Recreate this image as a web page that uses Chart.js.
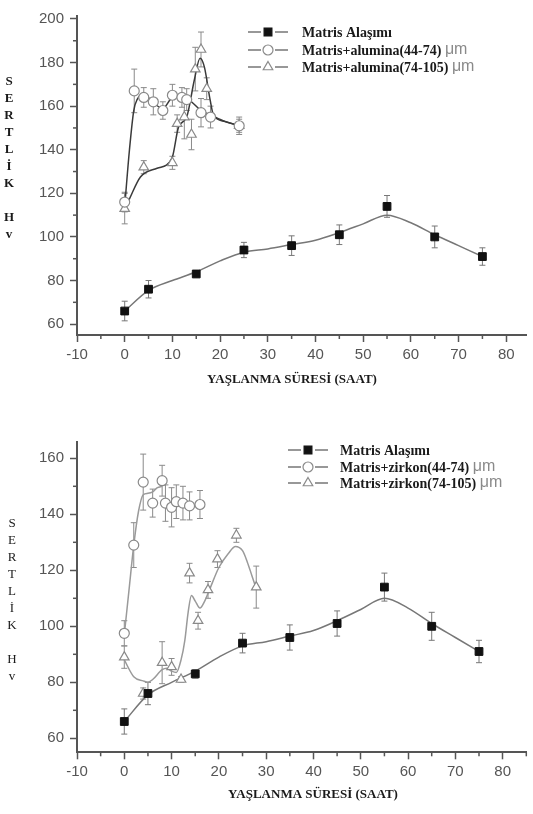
<!DOCTYPE html>
<html lang="tr">
<head>
<meta charset="UTF-8">
<title>Sertlik - Yaşlanma Süresi</title>
<script src="https://cdn.jsdelivr.net/npm/chart.js@4.4.0/dist/chart.umd.min.js"></script>
<style>
    body { margin: 0; background: #fff; }
    .kutu { position: absolute; left: 0; width: 533px; }
    #ust { top: 0; height: 400px; }
    #alt { top: 400px; height: 414px; }
</style>
</head>
<body>
<div class="kutu" id="ust"><canvas id="grafik1"></canvas></div>
<div class="kutu" id="alt"><canvas id="grafik2"></canvas></div>

<script>
// --- Matris alaşımı (iki grafikte de aynı) ---
const matrisSaat = [0, 5, 15, 25, 35, 45, 55, 65, 75];
const matrisHv = [66, 76, 83, 94, 96, 101, 114, 100, 91];
const matrisHata = [4.5, 4, 1.5, 3.5, 4.5, 4.5, 5, 5, 4];
// fit eğrisi (resimden okunan noktalar)
const matrisEgriSaat = [0, 5, 10, 15, 20, 25, 30, 35, 40, 45, 50, 55, 60, 65, 70, 75];
const matrisEgriHv = [66, 75.5, 80, 84, 89, 93, 94.5, 96.5, 98.5, 102, 106, 110, 106.5, 101, 96, 91];

// --- Matris+alumina(44-74) ---
const al44Saat = [0, 2, 4, 6, 8, 10, 12, 13, 16, 18, 24];
const al44Hv = [116, 167, 164, 162, 158, 165, 164, 163, 157, 155, 151];
const al44Hata = [4.5, 10, 4.5, 6, 4, 5, 4.5, 5, 6.5, 5, 3];
const al44EgriSaat = [0, 1, 1.9, 2.6, 4, 6, 8, 10, 12, 14, 16, 18, 21, 24];
const al44EgriHv = [114, 140, 158, 163, 165.5, 161.5, 159, 164, 164.5, 162, 158, 156, 153, 151];

// --- Matris+alumina(74-105) ---
const al74Saat = [0, 4, 10, 11, 12.5, 14, 14.8, 16, 17.2, 24];
const al74Hv = [113, 132, 134, 152, 155, 147, 177, 186, 168, 151];
const al74Hata = [7, 3, 3, 4, 10, 7, 10, 8, 5, 4];
const al74EgriSaat = [0, 0.9, 3.3, 6.8, 9.9, 11.3, 13, 14.6, 15.8, 16.7, 17.9, 18.6, 21, 24];
const al74EgriHv = [113, 117, 127.5, 131.5, 136, 150.5, 155, 172, 182, 178, 163, 156, 153, 151];

// --- Matris+zirkon(44-74) ---
const zr44Saat = [0, 2, 4, 6, 8, 8.7, 10, 11, 12.4, 13.8, 16];
const zr44Hv = [97.5, 129, 151.5, 144, 152, 144, 142.5, 144.5, 144, 143, 143.5];
const zr44Hata = [4.5, 8, 10, 5, 5.5, 6.5, 7, 6, 6, 5, 5];
const zr44EgriSaat = [0, 1, 2, 3, 4, 5, 6, 7, 8];
const zr44EgriHv = [97, 113, 129, 141, 147, 147.5, 148, 149.5, 150];

// --- Matris+zirkon(74-105) ---
const zr74Saat = [0, 4, 8, 10, 12, 13.8, 15.6, 17.7, 19.7, 23.7, 27.9];
const zr74Hv = [89, 76, 87, 85.5, 81, 119, 102, 113, 124, 132.5, 114];
const zr74Hata = [4, 2, 7.5, 3, 1, 3.5, 3, 3, 3, 2.5, 7.5];
const zr74EgriSaat = [0, 2, 4, 5, 6, 8, 9, 10, 11, 12, 12.8, 13.5, 14.2, 15, 16, 17, 18, 20, 22, 23.5, 25, 26, 27, 28];
const zr74EgriHv = [88, 82, 80.5, 80, 81, 84.5, 85, 84, 83.5, 88, 95, 105, 111, 109, 106.5, 109, 113, 121, 126, 128.5, 127, 123, 118, 113];

// --- eksen etiketleri ---
const xTikler = [-10, 0, 10, 20, 30, 40, 50, 60, 70, 80];
const yTiklerUst = [60, 80, 100, 120, 140, 160, 180, 200];
const yTiklerAlt = [60, 80, 100, 120, 140, 160];
const xBaslik = 'YAŞLANMA SÜRESİ (SAAT)';
const yBaslik = 'SERTLİK Hv';
const etiketlerUst = ['Matris Alaşımı', 'Matris+alumina(44-74) μm', 'Matris+alumina(74-105) μm'];
const etiketlerAlt = ['Matris Alaşımı', 'Matris+zirkon(44-74) μm', 'Matris+zirkon(74-105) μm'];

function noktalar(xs, ys) {
    return xs.map((x, i) => ({ x: x, y: ys[i] }));
}

// işaretçi çizimi (lejant için)
function isaretCiz(ctx, stil, x, y, r, dolgu, cizgi) {
    ctx.beginPath();
    if (stil === 'rect') {
        const s = r * Math.SQRT1_2;
        ctx.rect(x - s, y - s, 2 * s, 2 * s);
    } else if (stil === 'circle') {
        ctx.arc(x, y, r, 0, Math.PI * 2);
    } else {
        for (let k = 0; k < 3; k++) {
            const a = k * Math.PI * 2 / 3;
            const px = x + Math.sin(a) * r, py = y - Math.cos(a) * r;
            if (k === 0) ctx.moveTo(px, py); else ctx.lineTo(px, py);
        }
        ctx.closePath();
    }
    ctx.fillStyle = dolgu;
    ctx.fill();
    ctx.lineWidth = 1.2;
    ctx.strokeStyle = cizgi;
    ctx.stroke();
}

// hata çubukları, ara tikler, lejant ve başlıklar
const suslemeEklentisi = {
    id: 'susleme',
    beforeDatasetsDraw(chart) {
        const ctx = chart.ctx, xs = chart.scales.x, ys = chart.scales.y;
        ctx.save();
        chart.data.datasets.forEach(ds => {
            if (!ds.hata) return;
            ctx.strokeStyle = ds.hataRenk;
            ctx.lineWidth = 1;
            ds.data.forEach((p, i) => {
                const x = xs.getPixelForValue(p.x);
                const y1 = ys.getPixelForValue(p.y - ds.hata[i]);
                const y2 = ys.getPixelForValue(p.y + ds.hata[i]);
                ctx.beginPath();
                ctx.moveTo(x, y1); ctx.lineTo(x, y2);
                ctx.moveTo(x - 3, y1); ctx.lineTo(x + 3, y1);
                ctx.moveTo(x - 3, y2); ctx.lineTo(x + 3, y2);
                ctx.stroke();
            });
        });
        ctx.restore();
    },
    afterDraw(chart, args, o) {
        const ctx = chart.ctx, xs = chart.scales.x, ys = chart.scales.y;
        const alan = chart.chartArea;
        ctx.save();

        // ara tikler
        ctx.strokeStyle = '#555';
        ctx.lineWidth = 1.5;
        for (let i = 0; i < xTikler.length; i++) {
            const v = xTikler[i] + 5;
            if (v > xs.max) break;
            const px = xs.getPixelForValue(v);
            ctx.beginPath(); ctx.moveTo(px, alan.bottom); ctx.lineTo(px, alan.bottom + 4); ctx.stroke();
        }
        const yTik = o.yTikler;
        for (let i = 0; i < yTik.length - 1; i++) {
            const py = ys.getPixelForValue(yTik[i] + 10);
            ctx.beginPath(); ctx.moveTo(alan.left - 4, py); ctx.lineTo(alan.left, py); ctx.stroke();
        }

        // lejant
        const lejant = chart.data.datasets.filter(d => d.lejant);
        lejant.forEach((ds, i) => {
            const y = o.lejantY[i];
            ctx.strokeStyle = '#777';
            ctx.lineWidth = 1.3;
            ctx.beginPath();
            ctx.moveTo(o.lejantX - 20, y); ctx.lineTo(o.lejantX - 7, y);
            ctx.moveTo(o.lejantX + 7, y); ctx.lineTo(o.lejantX + 20, y);
            ctx.stroke();
            isaretCiz(ctx, ds.pointStyle, o.lejantX, y, ds.pointRadius, ds.pointBackgroundColor, ds.pointBorderColor);

            const parca = ds.label.split(' μm');
            ctx.font = 'bold 14px "Liberation Serif"';
            ctx.fillStyle = '#1a1a1a';
            ctx.textAlign = 'left';
            ctx.textBaseline = 'middle';
            ctx.fillText(parca[0], o.lejantMetinX, y + 1);
            if (parca.length > 1) {
                const w = ctx.measureText(parca[0] + ' ').width;
                ctx.font = '16px "Liberation Sans"';
                ctx.fillStyle = '#8a8a8a';
                ctx.fillText('μm', o.lejantMetinX + w, y);
            }
        });

        // x ekseni başlığı
        ctx.font = 'bold 13px "Liberation Serif"';
        ctx.fillStyle = '#1a1a1a';
        ctx.textAlign = 'center';
        ctx.textBaseline = 'middle';
        ctx.fillText(xBaslik, o.baslikX, o.baslikY);

        // y ekseni başlığı (harf harf, dikey)
        ctx.font = (o.harfKalin ? 'bold ' : '') + '13px "Liberation Serif"';
        for (let i = 0; i < yBaslik.length; i++) {
            ctx.fillText(yBaslik[i], o.harfX, o.harfY + i * o.harfAdim);
        }
        ctx.restore();
    }
};

function grafikOlustur(id, ayar) {
    const datasets = [
        {
            label: ayar.etiketler[0], lejant: true, order: 0,
            data: noktalar(matrisSaat, matrisHv), hata: matrisHata, hataRenk: '#777',
            showLine: false, pointStyle: 'rect', pointRadius: 5.5,
            pointBackgroundColor: '#111', pointBorderColor: '#111', pointBorderWidth: 1
        },
        {
            label: ayar.etiketler[1], lejant: true, order: 0,
            data: noktalar(ayar.s44, ayar.h44), hata: ayar.e44, hataRenk: '#8a8a8a',
            showLine: false, pointStyle: 'circle', pointRadius: 5,
            pointBackgroundColor: '#fff', pointBorderColor: '#8a8a8a', pointBorderWidth: 1.2
        },
        {
            label: ayar.etiketler[2], lejant: true, order: 0,
            data: noktalar(ayar.s74, ayar.h74), hata: ayar.e74, hataRenk: '#8a8a8a',
            showLine: false, pointStyle: 'triangle', pointRadius: 5.5,
            pointBackgroundColor: '#fff', pointBorderColor: '#8a8a8a', pointBorderWidth: 1.2
        },
        {
            label: 'matris eğri', order: 1, data: noktalar(matrisEgriSaat, matrisEgriHv),
            showLine: true, pointRadius: 0, borderColor: '#777', borderWidth: 1.5,
            cubicInterpolationMode: 'monotone', fill: false
        },
        {
            label: '44-74 eğri', order: 1, data: noktalar(ayar.es44, ayar.eh44),
            showLine: true, pointRadius: 0, borderColor: ayar.egriRenk, borderWidth: 1.5,
            cubicInterpolationMode: 'monotone', fill: false
        },
        {
            label: '74-105 eğri', order: 1, data: noktalar(ayar.es74, ayar.eh74),
            showLine: true, pointRadius: 0, borderColor: ayar.egriRenk, borderWidth: 1.5,
            cubicInterpolationMode: 'monotone', fill: false
        }
    ];

    const eksenYazi = { family: 'Liberation Sans', size: 15 };

    return new Chart(document.getElementById(id), {
        type: 'scatter',
        data: { datasets: datasets },
        plugins: [suslemeEklentisi],
        options: {
            responsive: true,
            maintainAspectRatio: false,
            animation: false,
            events: [],
            layout: { padding: { top: ayar.ustBosluk, right: ayar.sagBosluk, left: 0, bottom: 0 } },
            plugins: {
                legend: { display: false },
                tooltip: { enabled: false },
                susleme: ayar.susleme
            },
            scales: {
                x: {
                    type: 'linear', min: -10, max: ayar.xMax,
                    afterBuildTicks: s => { s.ticks = xTikler.map(v => ({ value: v })); },
                    afterFit: s => { s.height = ayar.xYukseklik; },
                    grid: { drawOnChartArea: false, drawTicks: true, tickLength: 7, color: '#555', tickWidth: 1.5 },
                    border: { display: true, color: '#555', width: 2 },
                    ticks: { font: eksenYazi, color: '#555', padding: 4, maxRotation: 0 }
                },
                y: {
                    type: 'linear', min: 55, max: ayar.yMax,
                    afterBuildTicks: s => { s.ticks = ayar.yTikler.map(v => ({ value: v })); },
                    afterFit: s => { s.width = 77; },
                    grid: { drawOnChartArea: false, drawTicks: true, tickLength: 7, color: '#555', tickWidth: 1.5 },
                    border: { display: true, color: '#555', width: 2 },
                    ticks: { font: eksenYazi, color: '#555', padding: 6 }
                }
            }
        }
    });
}

// üst grafik: alumina
grafikOlustur('grafik1', {
    etiketler: etiketlerUst,
    s44: al44Saat, h44: al44Hv, e44: al44Hata, es44: al44EgriSaat, eh44: al44EgriHv,
    s74: al74Saat, h74: al74Hv, e74: al74Hata, es74: al74EgriSaat, eh74: al74EgriHv,
    egriRenk: '#3a3a3a',
    xMax: 84.2, yMax: 201.5, yTikler: yTiklerUst,
    ustBosluk: 15.7, sagBosluk: 4, xYukseklik: 65,
    susleme: {
        yTikler: yTiklerUst,
        lejantX: 268, lejantMetinX: 302, lejantY: [32, 50, 67],
        baslikX: 292, baslikY: 380,
        harfX: 9, harfY: 82, harfAdim: 17, harfKalin: true
    }
});

// alt grafik: zirkon
grafikOlustur('grafik2', {
    etiketler: etiketlerAlt,
    s44: zr44Saat, h44: zr44Hv, e44: zr44Hata, es44: zr44EgriSaat, eh44: zr44EgriHv,
    s74: zr74Saat, h74: zr74Hv, e74: zr74Hata, es74: zr74EgriSaat, eh74: zr74EgriHv,
    egriRenk: '#9a9a9a',
    xMax: 85, yMax: 166, yTikler: yTiklerAlt,
    ustBosluk: 41.5, sagBosluk: 5, xYukseklik: 61.7,
    susleme: {
        yTikler: yTiklerAlt,
        lejantX: 308, lejantMetinX: 340, lejantY: [50, 67, 83],
        baslikX: 313, baslikY: 395,
        harfX: 12, harfY: 124, harfAdim: 17, harfKalin: false
    }
});
</script>
</body>
</html>
